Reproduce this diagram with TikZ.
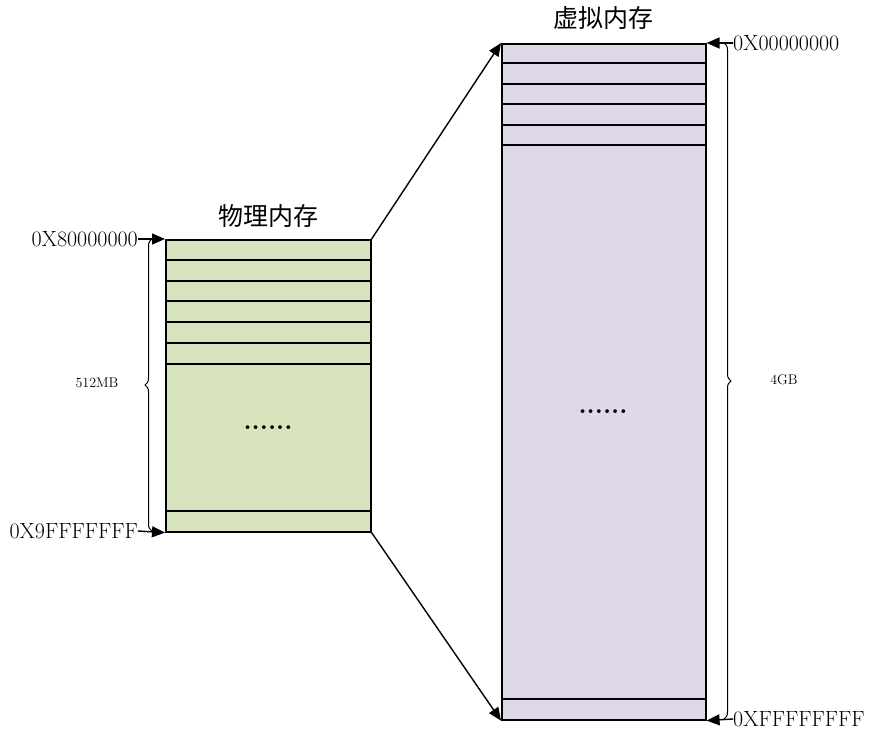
\documentclass[tikz,border=0pt]{standalone}
\usepackage{fontspec}
\newfontfamily\cjk{Noto Sans CJK SC}
\usetikzlibrary{decorations.pathreplacing,arrows.meta}
\begin{document}
\begin{tikzpicture}[x=1pt,y=-1pt,
  arr/.style={-{Triangle[length=13pt,width=11pt]},line width=1.4pt},
  mem/.style={draw,line width=1.6pt,inner sep=0},
  addr/.style={font=\fontsize{22}{22}\selectfont,inner sep=0},
  brc/.style={decorate,decoration={brace,amplitude=7pt},line width=1pt}]
\useasboundingbox (0,0) rectangle (869,733);
\node[mem,fill={rgb,255:red,215;green,228;blue,189},anchor=north west,minimum width=205pt,minimum height=292pt] (phys) at (165,239) {};
\node[mem,fill={rgb,255:red,222;green,216;blue,232},anchor=north west,minimum width=204pt,minimum height=676pt] (virt) at (501,43) {};
\foreach \y in {260,281,301,322,343,364,511} \draw[line width=1.6pt] (165,\y) -- (370,\y);
\foreach \y in {63,84,104,125,145,699} \draw[line width=1.6pt] (501,\y) -- (705,\y);
\node[font=\cjk\fontsize{25}{25}\selectfont] (pt) at (268,216) {物理内存};
\node[font=\cjk\fontsize{25}{25}\selectfont] (vt) at (603,18) {虚拟内存};
\node[font=\bfseries\fontsize{26}{26}\selectfont] (d1) at (268,428) {......};
\node[font=\bfseries\fontsize{26}{26}\selectfont] (d2) at (603,412) {......};
\node[addr,anchor=east] (a1) at (138,239) {0X80000000};
\node[addr,anchor=east] (a2) at (138,531) {0X9FFFFFFF};
\node[addr,anchor=west] (a3) at (733,43) {0X00000000};
\node[addr,anchor=west] (a4) at (733,719) {0XFFFFFFFF};
\draw[arr] (a1.east) -- (phys.north west);
\draw[arr] (a2.east) -- (phys.south west);
\draw[arr] (a3.west) -- (virt.north east);
\draw[arr] (a4.west) -- (virt.south east);
\draw[arr] (phys.north east) -- (virt.north west);
\draw[arr] (phys.south east) -- (virt.south west);
\draw[brc] (152,531) -- (152,239);
\draw[brc] (724,43) -- (724,719);
\node[font=\fontsize{14}{14}\selectfont] (m1) at (97,383) {512MB};
\node[font=\fontsize{14}{14}\selectfont] (m2) at (784,380) {4GB};
\end{tikzpicture}
\end{document}
